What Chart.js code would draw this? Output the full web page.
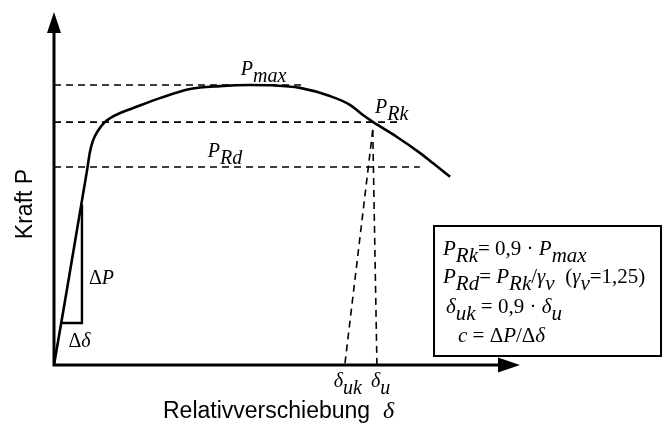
<!DOCTYPE html>
<html>
<head>
<meta charset="utf-8">
<script src="https://cdn.jsdelivr.net/npm/chart.js@4.4.1/dist/chart.umd.min.js"></script>
<style>
  html, body { margin: 0; padding: 0; background: #fff; }
  #wrap { width: 663px; height: 425px; }
</style>
</head>
<body>
<div id="wrap"><canvas id="chart" width="663" height="425"></canvas></div>
<script>
// Last-Verschiebungs-Kurve, Achsen in % vom Achsenende
const slipX  = [0, 7.1, 7.7, 8.4, 9.4, 10.9, 12.0, 14.2, 17.0, 22.7, 29.2, 35.6, 42.1, 47.4, 52.8, 59.2, 63.5, 66.3, 68.5, 73.6, 78.5, 81.3, 85.0];
const forceY = [0, 55.2, 60.3, 63.7, 66.3, 68.8, 69.9, 71.4, 72.8, 75.6, 78.2, 79.0, 79.3, 79.2, 78.5, 76.2, 73.7, 70.8, 68.8, 64.6, 60.1, 57.2, 53.3];

// horizontale Niveaus: P_max, P_Rk, P_Rd
const levelValues = [79.3, 68.8, 56.1];
const levelEnds   = [53.2, 74.2, 78.5];
const levelLabelX = [40.1, 68.9, 33.0];

// Verschiebungen am Bruch
const deltaU  = 69.3;
const deltaUk = 62.4;
const dropTop = [68.4, 66.6];

// Steigungsdreieck fuer c = dP/dd
const triX = [1.6, 6.0, 6.0];
const triY = [11.9, 11.9, 45.5];

const SERIF = '"Liberation Serif", "Times New Roman", serif';
const SANS  = '"Liberation Sans", Arial, sans-serif';

const pts = (xs, ys) => xs.map((x, i) => ({ x: x, y: ys[i] }));

function lineSet(data, width, dash) {
  return {
    data: data,
    showLine: true,
    borderColor: '#000',
    borderWidth: width,
    borderDash: dash || [],
    pointRadius: 0,
    fill: false,
    tension: 0
  };
}

const curve = lineSet(pts(slipX, forceY), 2.6);
curve.cubicInterpolationMode = 'monotone';
curve.borderJoinStyle = 'round';

const datasets = [curve];
levelValues.forEach((v, i) => {
  datasets.push(lineSet([{ x: 0, y: v }, { x: levelEnds[i], y: v }], 1.6, [7, 5]));
});
datasets.push(lineSet([{ x: dropTop[0], y: dropTop[1] }, { x: deltaUk, y: 0 }], 1.6, [7, 5]));
datasets.push(lineSet([{ x: dropTop[0], y: dropTop[1] }, { x: deltaU, y: 0 }], 1.6, [7, 5]));
datasets.push(lineSet(pts(triX, triY), 2.4));

// Text mit Indizes: [text, 'i' kursiv | 'r' normal | 'si'/'sr' tiefgestellt]
function mathRun(ctx, x, y, parts, size) {
  let cx = x;
  ctx.textAlign = 'left';
  ctx.textBaseline = 'alphabetic';
  for (const [txt, st] of parts) {
    const italic = st.includes('i');
    const sub = st.startsWith('s');
    ctx.font = (italic ? 'italic ' : '') + size + 'px ' + SERIF;
    ctx.fillText(txt, cx, y + (sub ? Math.round(size * 0.33) : 0));
    cx += ctx.measureText(txt).width;
  }
  return cx;
}

const extras = {
  id: 'extras',
  beforeDatasetsDraw(chart) {
    const ctx = chart.ctx;
    const xs = chart.scales.x, ys = chart.scales.y;
    const x0 = xs.getPixelForValue(0), y0 = ys.getPixelForValue(0);
    const xEnd = xs.getPixelForValue(100), yEnd = ys.getPixelForValue(100);
    ctx.save();
    ctx.strokeStyle = '#000';
    ctx.fillStyle = '#000';
    ctx.lineWidth = 3;
    ctx.lineCap = 'butt';
    ctx.beginPath();
    ctx.moveTo(x0, y0 + 1.5);
    ctx.lineTo(x0, yEnd + 15);
    ctx.moveTo(x0 - 1.5, y0);
    ctx.lineTo(xEnd - 15, y0);
    ctx.stroke();
    // Pfeilspitzen
    ctx.beginPath();
    ctx.moveTo(x0, yEnd);
    ctx.lineTo(x0 - 7, yEnd + 21);
    ctx.lineTo(x0 + 7, yEnd + 21);
    ctx.closePath();
    ctx.fill();
    ctx.beginPath();
    ctx.moveTo(xEnd, y0);
    ctx.lineTo(xEnd - 22, y0 - 7.5);
    ctx.lineTo(xEnd - 22, y0 + 7.5);
    ctx.closePath();
    ctx.fill();
    ctx.restore();
  },
  afterDatasetsDraw(chart) {
    const ctx = chart.ctx;
    const xs = chart.scales.x, ys = chart.scales.y;
    const px = v => xs.getPixelForValue(v);
    const py = v => ys.getPixelForValue(v);
    ctx.save();
    ctx.fillStyle = '#000';

    // Niveau-Beschriftungen
    mathRun(ctx, px(levelLabelX[0]), py(levelValues[0]) - 10, [['P', 'i'], ['max', 'si']], 20);
    mathRun(ctx, px(levelLabelX[1]), py(levelValues[1]) - 9, [['P', 'i'], ['Rk', 'si']], 20);
    mathRun(ctx, px(levelLabelX[2]), py(levelValues[2]) - 10, [['P', 'i'], ['Rd', 'si']], 20);

    // Dreieck
    mathRun(ctx, px(triX[2]) + 7, py(22.9), [['\u0394', 'r'], ['P', 'i']], 20);
    mathRun(ctx, px(triX[0]) + 7, py(5.1), [['\u0394', 'r'], ['\u03b4', 'i']], 20);

    // Verschiebungen
    mathRun(ctx, px(deltaUk) - 11, py(0) + 22, [['\u03b4', 'i'], ['uk', 'si']], 20);
    mathRun(ctx, px(deltaU) - 6, py(0) + 22, [['\u03b4', 'i'], ['u', 'si']], 20);

    // Achsentitel
    ctx.font = '23px ' + SANS;
    ctx.textAlign = 'left';
    ctx.textBaseline = 'alphabetic';
    const t = 'Relativverschiebung  ';
    ctx.fillText(t, 163, 418);
    const tw = ctx.measureText(t).width;
    ctx.font = 'italic 24px ' + SERIF;
    ctx.fillText('\u03b4', 163 + tw, 418);

    ctx.save();
    ctx.translate(32, 204);
    ctx.rotate(-Math.PI / 2);
    ctx.font = '23px ' + SANS;
    ctx.textAlign = 'center';
    ctx.fillText('Kraft P', 0, 0);
    ctx.restore();

    // Formelkasten
    ctx.lineWidth = 2;
    ctx.strokeStyle = '#000';
    ctx.strokeRect(434, 226, 227, 130);
    mathRun(ctx, 443, 255, [['P', 'i'], ['Rk', 'si'], ['= 0,9 \u00b7 ', 'r'], ['P', 'i'], ['max', 'si']], 21);
    mathRun(ctx, 443, 283, [['P', 'i'], ['Rd', 'si'], ['= ', 'r'], ['P', 'i'], ['Rk', 'si'], ['/', 'r'], ['\u03b3', 'i'], ['v', 'si'], ['  (', 'r'], ['\u03b3', 'i'], ['v', 'si'], ['=1,25)', 'r']], 21);
    mathRun(ctx, 446, 313, [['\u03b4', 'i'], ['uk', 'si'], [' = 0,9 \u00b7 ', 'r'], ['\u03b4', 'i'], ['u', 'si']], 21);
    mathRun(ctx, 458, 342, [['c', 'i'], [' = \u0394', 'r'], ['P', 'i'], ['/\u0394', 'r'], ['\u03b4', 'i']], 21);
    ctx.restore();
  }
};

new Chart(document.getElementById('chart'), {
  type: 'scatter',
  data: { datasets: datasets },
  options: {
    responsive: false,
    animation: false,
    layout: { padding: { left: 54, right: 143, top: 12, bottom: 60 } },
    plugins: { legend: { display: false }, tooltip: { enabled: false } },
    scales: {
      x: { type: 'linear', min: 0, max: 100, display: false },
      y: { type: 'linear', min: 0, max: 100, display: false }
    }
  },
  plugins: [extras]
});
</script>
</body>
</html>
